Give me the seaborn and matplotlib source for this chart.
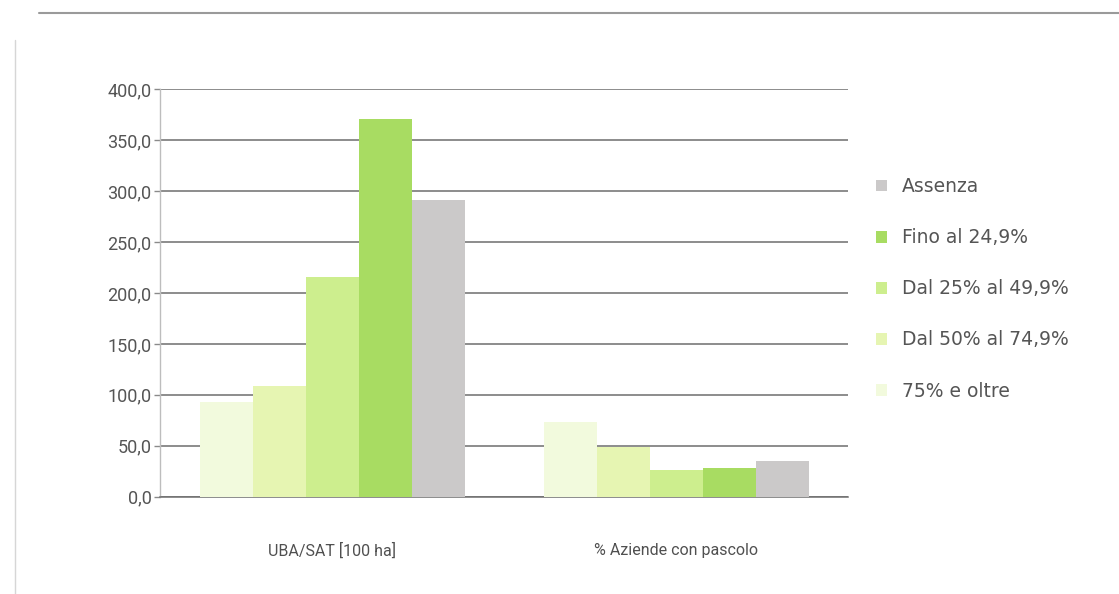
import matplotlib
matplotlib.use("Agg")
import matplotlib.pyplot as plt
from matplotlib.ticker import FuncFormatter, MultipleLocator
from matplotlib.lines import Line2D
import seaborn as sns
import pandas as pd

# Indicators on the x axis
indicatori = ["UBA/SAT [100 ha]", "% Aziende con pascolo"]

# Classes of pasture share (draw order, left to right in each group)
classi = ["75% e oltre", "Dal 50% al 74,9%", "Dal 25% al 49,9%", "Fino al 24,9%", "Assenza"]

# Values per class for each indicator
uba_sat = [93.0, 108.5, 216.0, 370.5, 291.5]
aziende_pascolo = [73.0, 49.0, 26.0, 28.0, 35.5]

colori = ["#f2fadd", "#e6f5b2", "#cdee8e", "#a8dc62", "#cbc9c9"]

df = pd.DataFrame({
    "indicatore": [indicatori[0]] * len(classi) + [indicatori[1]] * len(classi),
    "classe": classi + classi,
    "valore": uba_sat + aziende_pascolo,
})

sns.set_theme(style="white")
plt.rcParams["font.family"] = ["Roboto", "DejaVu Sans"]

fig = plt.figure(figsize=(11.19, 5.94), dpi=100)
ax = fig.add_axes([0.143, 0.1638, 0.615, 0.686])

sns.barplot(
    data=df, x="indicatore", y="valore", hue="classe",
    order=indicatori, hue_order=classi, palette=colori,
    width=0.77, saturation=1, linewidth=0, ax=ax, zorder=3,
)

ax.set_ylim(0, 400)
ax.set_xlim(-0.5, 1.5)
ax.yaxis.set_major_locator(MultipleLocator(50))
ax.yaxis.set_major_formatter(FuncFormatter(lambda v, _: f"{v:.1f}".replace(".", ",")))
ax.grid(axis="y", color="#6e6e6e", linewidth=1.1, zorder=0)
ax.set_axisbelow(True)

for side in ["top", "right"]:
    ax.spines[side].set_visible(False)
ax.spines["left"].set_color("#bdbdbd")
ax.spines["left"].set_linewidth(1.0)
ax.spines["bottom"].set_color("#6e6e6e")
ax.spines["bottom"].set_linewidth(1.1)

ax.tick_params(axis="y", which="major", left=True, length=4, width=1, color="#8a8a8a",
               labelsize=13, labelcolor="#555555", pad=2)
ax.tick_params(axis="x", bottom=False, labelsize=11.5, labelcolor="#505050", pad=27)
ax.set_xlabel("")
ax.set_ylabel("")

# Legend on the right, top entry first
handles, labels = ax.get_legend_handles_labels()
ax.legend(
    handles[::-1], labels[::-1], loc="center left", bbox_to_anchor=(1.04, 0.51),
    frameon=False, prop={"family": "DejaVu Sans", "size": 13.5}, labelcolor="#555555",
    handlelength=0.58, handleheight=0.58, handletextpad=0.8,
    labelspacing=1.71, borderpad=0, borderaxespad=0,
)

# Frame lines of the figure panel
fig.add_artist(Line2D([0.035, 1.0], [1 - 13 / 594, 1 - 13 / 594],
                      transform=fig.transFigure, color="#9a9a9a", linewidth=1.5))
fig.add_artist(Line2D([15 / 1119, 15 / 1119], [0.0, 1 - 40 / 594],
                      transform=fig.transFigure, color="#d6d6d6", linewidth=1.0))

fig.savefig("out.png", dpi=100)
